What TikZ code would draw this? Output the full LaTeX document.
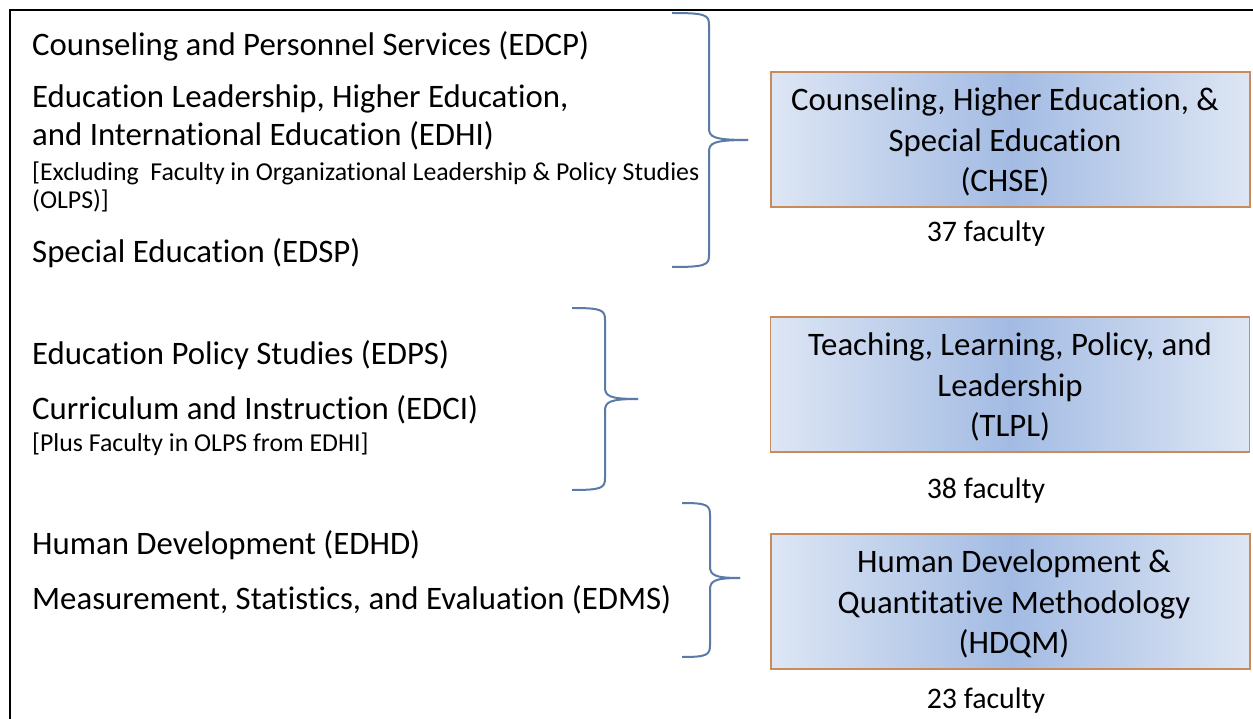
\documentclass[tikz,border=0pt]{standalone}
\usepackage{fontspec}
\setmainfont{Carlito}[Ligatures=NoCommon]
\definecolor{bracec}{HTML}{5B7BA6}
\definecolor{boxedge}{HTML}{C98B5B}
\definecolor{boxlight}{HTML}{DDE6F4}
\definecolor{boxdark}{HTML}{A3BBE3}
\tikzset{
  big/.style={font=\fontsize{32.8}{40}\selectfont, inner sep=0pt, anchor=base west},
  small/.style={font=\fontsize{25.8}{28}\selectfont, inner sep=0pt, anchor=base west},
  unitbox/.style={draw=boxedge, line width=1.3pt, left color=boxlight, right color=boxlight,
     middle color=boxdark, minimum width=479pt, minimum height=135pt, inner sep=0pt},
  unittext/.style={align=center, font=\fontsize{32.8}{40.5}\selectfont, text=black, inner sep=0pt},
  count/.style={font=\fontsize{29.8}{30}\selectfont, inner sep=0pt},
  bracestyle/.style={draw=bracec, line width=2pt},
  frame/.style={draw=black, line width=2.5pt}
}
\newcommand{\mybrace}[6]{%
  \draw[bracestyle] (#1,#4) .. controls (#2-3,#4) and (#2,#4+2) .. (#2,#4+12) -- (#2,#5-12)
     .. controls (#2,#5-3) and (#2+4,#5) .. (#3,#5);
  \draw[bracestyle] (#3,#5) .. controls (#2+4,#5) and (#2,#5+3) .. (#2,#5+12) -- (#2,#6-12)
     .. controls (#2,#6-2) and (#2-3,#6) .. (#1,#6);}
\begin{document}
\begin{tikzpicture}[x=1pt,y=-1pt]
\useasboundingbox (0,0) rectangle (1253,719);
\coordinate (ftr) at (1253,10);
\coordinate (ftl) at (10,10);
\coordinate (fbl) at (10,719);
\draw[frame] (ftr) -- (ftl) -- (fbl);

% left texts
\node[big] (edcp) at (32,56) {Counseling and Personnel Services (EDCP)};
\node[big] (edhi1) at (32,108) {Education Leadership, Higher Education,};
\node[big] (edhi2) at (32,146) {and International Education (EDHI)};
\node[small] (excl1) at (32,181) {[Excluding\ \ Faculty in Organizational Leadership \& Policy Studies};
\node[small] (excl2) at (32,209) {(OLPS)]};
\node[big] (edsp) at (32,263) {Special Education (EDSP)};
\node[big] (edps) at (32,364) {Education Policy Studies (EDPS)};
\node[big] (edci) at (32,419) {Curriculum and Instruction (EDCI)};
\node[small] (plus) at (32,451) {[Plus Faculty in OLPS from EDHI]};
\node[big] (edhd) at (32,554) {Human Development (EDHD)};
\node[big] (edms) at (32,609) {Measurement, Statistics, and Evaluation (EDMS)};

% braces
\mybrace{672}{709}{748}{13}{140}{267}
\mybrace{572}{605}{638}{308}{399}{490}
\mybrace{682}{710}{740}{503}{578}{657}

% unit boxes
\node[unitbox] (chse) at (1010.5,139.5) {};
\node[unittext] (chset) at (1005,142) {Counseling, Higher Education, \&\\Special Education\\(CHSE)};
\node[unitbox] (tlpl) at (1010,384.5) {};
\node[unittext] (tlplt) at (1010,387) {Teaching, Learning, Policy, and\\Leadership\\(TLPL)};
\node[unitbox] (hdqm) at (1010.5,601.5) {};
\node[unittext] (hdqmt) at (1014,604) {Human Development \&\\Quantitative Methodology\\(HDQM)};

\node[count] (c1) at (986,234) {37 faculty};
\node[count] (c2) at (986,491) {38 faculty};
\node[count] (c3) at (986,701) {23 faculty};
\end{tikzpicture}
\end{document}
